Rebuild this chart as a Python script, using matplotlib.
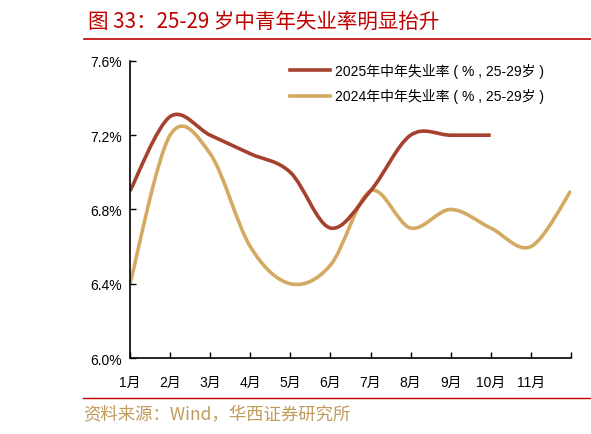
import numpy as np
import matplotlib
matplotlib.use('Agg')
import matplotlib.pyplot as plt
from matplotlib.path import Path
from matplotlib.patches import PathPatch
from matplotlib.lines import Line2D

plt.rcParams['font.family'] = ['Liberation Sans', 'Noto Sans CJK SC', 'DejaVu Sans']

months = ['1月', '2月', '3月', '4月', '5月', '6月', '7月', '8月', '9月', '10月', '11月', '']
rate_2025 = [6.9, 7.3, 7.2, 7.1, 7.0, 6.7, 6.9, 7.2, 7.2, 7.2]
rate_2024 = [6.4, 7.2, 7.1, 6.6, 6.4, 6.5, 6.9, 6.7, 6.8, 6.7, 6.6, 6.9]
label_2025 = '2025年中年失业率 ( % , 25-29岁 )'
label_2024 = '2024年中年失业率 ( % , 25-29岁 )'

c2025 = '#A6402F'
c2024 = '#D4AA62'
red = '#C00000'


def smooth_path(x, y):
    # Excel-style smoothed line: cubic bezier through every point
    pts = np.column_stack([x, y]).astype(float)
    verts = [pts[0]]
    codes = [Path.MOVETO]
    n = len(pts)
    for i in range(n - 1):
        p0 = pts[i - 1] if i > 0 else pts[i]
        p1 = pts[i]
        p2 = pts[i + 1]
        p3 = pts[i + 2] if i + 2 < n else pts[i + 1]
        c1 = p1 + (p2 - p0) / 6.0
        c2 = p2 - (p3 - p1) / 6.0
        verts += [c1, c2, p2]
        codes += [Path.CURVE4] * 3
    return Path(verts, codes)


fig = plt.figure(figsize=(5.91, 4.35), dpi=100)
ax = fig.add_axes([0.22, 0.1747, 0.746, 0.683])

for vals, col in [(rate_2024, c2024), (rate_2025, c2025)]:
    p = smooth_path(np.arange(len(vals)), vals)
    ax.add_patch(PathPatch(p, facecolor='none', edgecolor=col, lw=2.6,
                           capstyle='butt'))

ax.set_xlim(0, 11)
ax.set_ylim(6.0, 7.6)
ax.set_yticks([6.0, 6.4, 6.8, 7.2, 7.6])
ax.set_yticklabels(['6.0%', '6.4%', '6.8%', '7.2%', '7.6%'])
ax.set_xticks(range(12))
ax.set_xticklabels(months)
ax.tick_params(axis='both', direction='in', length=4, width=1, labelsize=10,
               colors='black')
ax.tick_params(axis='x', pad=12)
ax.tick_params(axis='y', pad=6)
for s in ['top', 'right']:
    ax.spines[s].set_visible(False)
for s in ['left', 'bottom']:
    ax.spines[s].set_linewidth(1.2)

handles = [Line2D([], [], color=c2025, lw=2.6), Line2D([], [], color=c2024, lw=2.6)]
ax.legend(handles, [label_2025, label_2024], loc='upper left',
          bbox_to_anchor=(0.335, 1.035), frameon=False, fontsize=10,
          handlelength=2.9, handletextpad=0.35, labelspacing=0.75)

fig.text(0.149, 0.949, '图 33：25-29 岁中青年失业率明显抬升', color=red,
         fontsize=14.8, va='center', ha='left',
         family=['Noto Sans CJK SC', 'DejaVu Sans'])
fig.add_artist(Line2D([0.142, 1.0], [0.908, 0.908], color=red, lw=1.2))
fig.add_artist(Line2D([0.14, 1.0], [0.083, 0.083], color=red, lw=1.0))
fig.text(0.14, 0.046, '资料来源：Wind，华西证券研究所', color='#C09A5A',
         fontsize=12.5, va='center', ha='left',
         family=['Noto Sans CJK SC', 'DejaVu Sans'])

fig.savefig('out.png', dpi=100)
